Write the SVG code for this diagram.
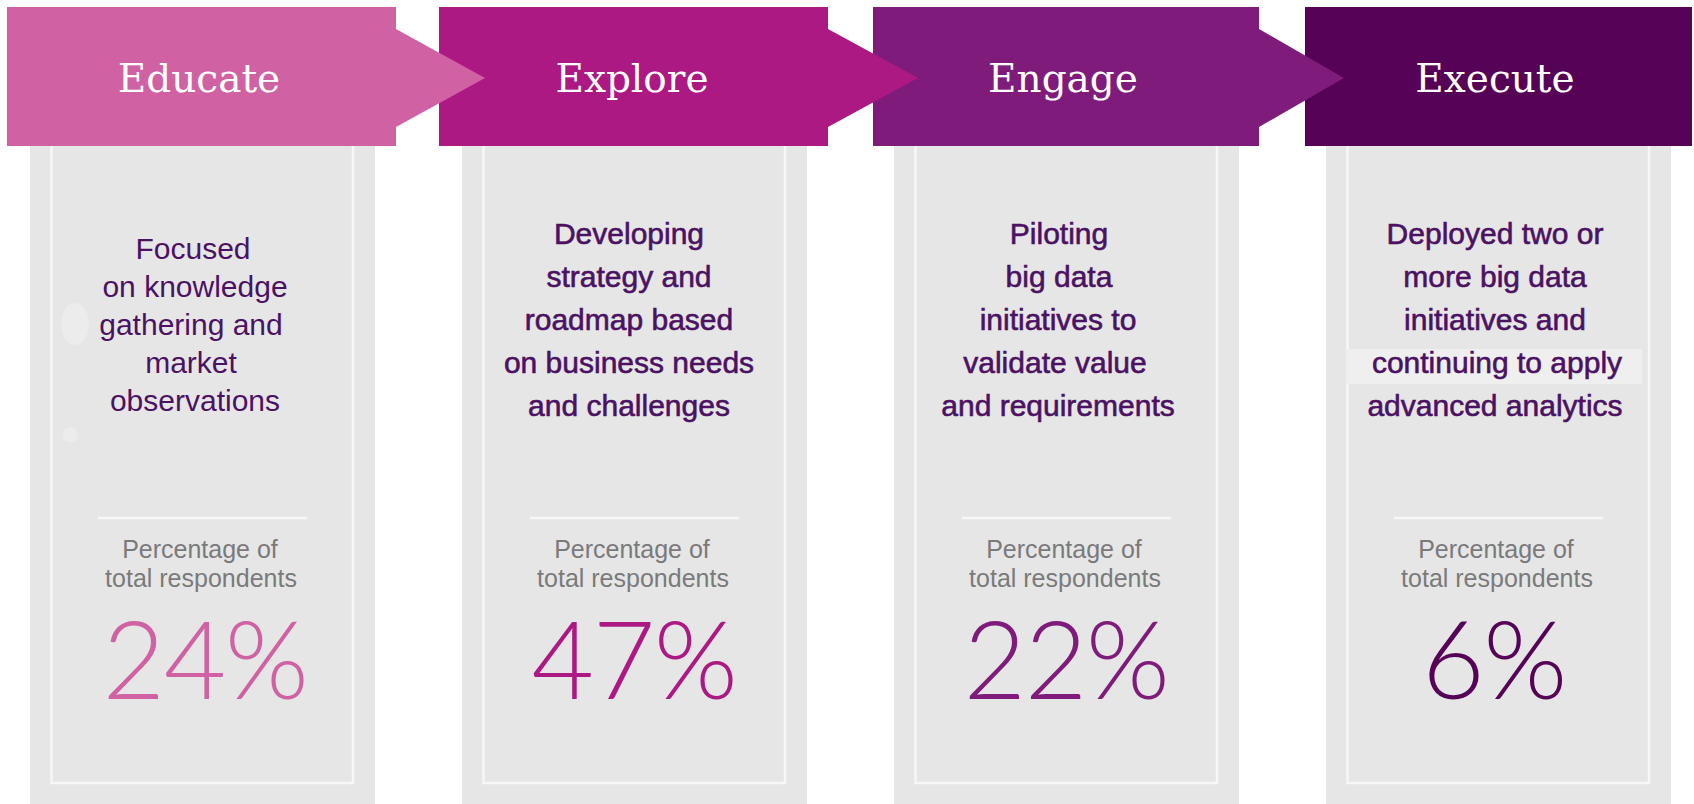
<svg xmlns="http://www.w3.org/2000/svg" width="1694" height="804" viewBox="0 0 1694 804">
<style>
.panel{fill:#E6E6E6}
.inner{fill:none;stroke:#F7F7F7;stroke-width:2.5}
.sep{stroke:#F7F7F7;stroke-width:2.5}
.title{font-family:"DejaVu Serif","Liberation Serif",serif;font-size:39px;fill:#FFFFFF;text-anchor:middle}
.desc{font-family:"Liberation Sans",Arial,sans-serif;font-size:30px;fill:#4B1163;text-anchor:middle}
.descb{stroke:#4B1163;stroke-width:0.6}
.lab{font-family:"Liberation Sans",Arial,sans-serif;font-size:25px;fill:#7A7A7A;text-anchor:middle}
.pct{font-family:Lato,"DejaVu Sans",sans-serif;font-weight:300;font-size:108px;text-anchor:middle;letter-spacing:-1.5px}
</style>
<rect width="1694" height="804" fill="#FFFFFF"/>

<g id="panels">
  <g id="panel-educate">
    <rect class="panel" x="30" y="140" width="345" height="664"/>
    <rect class="inner" x="51.5" y="130" width="301.5" height="653"/>
    <ellipse cx="75" cy="324" rx="14" ry="21" fill="#ECECEC"/>
    <circle cx="70" cy="435" r="7.5" fill="#ECECEC"/>
  </g>
  <g id="panel-explore">
    <rect class="panel" x="462" y="140" width="345" height="664"/>
    <rect class="inner" x="483.5" y="130" width="301.5" height="653"/>
  </g>
  <g id="panel-engage">
    <rect class="panel" x="894" y="140" width="345" height="664"/>
    <rect class="inner" x="915.5" y="130" width="301.5" height="653"/>
  </g>
  <g id="panel-execute">
    <rect class="panel" x="1326" y="140" width="345" height="664"/>
    <rect class="inner" x="1347.5" y="130" width="301.5" height="653"/>
    <rect x="1346" y="349" width="296" height="35" fill="#EFEFEF"/>
  </g>
</g>

<g id="banners">
  <g id="banner-execute">
    <rect x="1305" y="7" width="387" height="139" fill="#560256"/>
    <text class="title" x="1495" y="92">Execute</text>
  </g>
  <g id="banner-engage">
    <polygon points="873,7 1259,7 1259,29 1344,78 1259,127 1259,146 873,146" fill="#7F1B7A"/>
    <text class="title" x="1063" y="92">Engage</text>
  </g>
  <g id="banner-explore">
    <polygon points="439,7 828,7 828,29 918,78 828,127 828,146 439,146" fill="#AD1983"/>
    <text class="title" x="632" y="92">Explore</text>
  </g>
  <g id="banner-educate">
    <polygon points="7,7 396,7 396,29 485,78 396,127 396,146 7,146" fill="#D062A3"/>
    <text class="title" x="199" y="92">Educate</text>
  </g>
</g>

<g id="connectors"></g>

<g id="content-educate">
  <text class="desc" x="193" y="259">Focused</text>
  <text class="desc" x="195" y="297">on knowledge</text>
  <text class="desc" x="191" y="335">gathering and</text>
  <text class="desc" x="191" y="373">market</text>
  <text class="desc" x="195" y="411">observations</text>
  <line class="sep" x1="98" y1="518" x2="307" y2="518"/>
  <text class="lab" x="200" y="558">Percentage of</text>
  <text class="lab" x="201" y="587">total respondents</text>
  <text class="pct" x="205" y="699" fill="#D062A3">24%</text>
</g>

<g id="content-explore">
  <text class="desc descb" x="629" y="244">Developing</text>
  <text class="desc descb" x="629" y="287">strategy and</text>
  <text class="desc descb" x="629" y="330">roadmap based</text>
  <text class="desc descb" x="629" y="373">on business needs</text>
  <text class="desc descb" x="629" y="416">and challenges</text>
  <line class="sep" x1="530" y1="518" x2="739" y2="518"/>
  <text class="lab" x="632" y="558">Percentage of</text>
  <text class="lab" x="633" y="587">total respondents</text>
  <text class="pct" x="634" y="699" fill="#AD1983">47%</text>
</g>

<g id="content-engage">
  <text class="desc descb" x="1059" y="244">Piloting</text>
  <text class="desc descb" x="1059" y="287">big data</text>
  <text class="desc descb" x="1058" y="330">initiatives to</text>
  <text class="desc descb" x="1055" y="373">validate value</text>
  <text class="desc descb" x="1058" y="416">and requirements</text>
  <line class="sep" x1="962" y1="518" x2="1171" y2="518"/>
  <text class="lab" x="1064" y="558">Percentage of</text>
  <text class="lab" x="1065" y="587">total respondents</text>
  <text class="pct" x="1066" y="699" fill="#7F1B7A">22%</text>
</g>

<g id="content-execute">
  <text class="desc descb" x="1495" y="244">Deployed two or</text>
  <text class="desc descb" x="1495" y="287">more big data</text>
  <text class="desc descb" x="1495" y="330">initiatives and</text>
  <text class="desc descb" x="1497" y="373">continuing to apply</text>
  <text class="desc descb" x="1495" y="416">advanced analytics</text>
  <line class="sep" x1="1394" y1="518" x2="1603" y2="518"/>
  <text class="lab" x="1496" y="558">Percentage of</text>
  <text class="lab" x="1497" y="587">total respondents</text>
  <text class="pct" x="1494" y="699" fill="#560256">6%</text>
</g>
</svg>
